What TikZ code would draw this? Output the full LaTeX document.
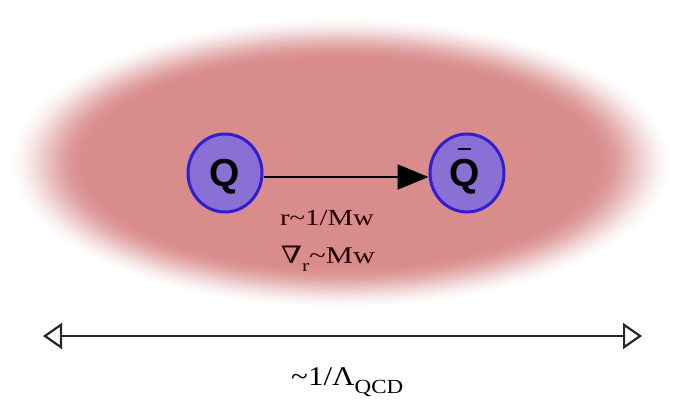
\documentclass[tikz,border=0pt]{standalone}
\usepackage{fontspec}
\setmainfont{Liberation Serif}
\newfontfamily\qfont{Liberation Sans}
\newfontfamily\dvs{DejaVu Serif}
\usetikzlibrary{arrows.meta,shapes.geometric}
\definecolor{blobc}{RGB}{217,140,140}
\definecolor{qfill}{RGB}{138,112,212}
\definecolor{qdraw}{RGB}{50,30,210}
\tikzset{
  quark/.style={ellipse, minimum width=74pt, minimum height=78pt, inner sep=0pt,
     fill=qfill, draw=qdraw, line width=3pt},
  qtext/.style={inner sep=0pt, font=\qfont\bfseries\fontsize{39}{39}\selectfont},
  lbl/.style={font=\fontsize{23}{23}\selectfont, inner sep=0pt, text=black!85!red}
}
\begin{document}
\begin{tikzpicture}[x=1pt,y=-1pt]
\useasboundingbox (0,0) rectangle (674,399);
\fill[white] (0,0) rectangle (674,399);
% blurred blob
\foreach \i in {0,...,40}{
  \pgfmathsetmacro{\t}{\i/40}
  \pgfmathtruncatemacro{\k}{100*(3*\t*\t-2*\t*\t*\t)}
  \pgfmathsetmacro{\rx}{336-80*\t}
  \pgfmathsetmacro{\ry}{148-44*\t}
  \fill[blobc!\k!white] (341,163) ellipse [x radius=\rx, y radius=\ry];
}
\node[quark] (q) at (225,173) {};
\node[quark] (qb) at (467,173) {};
\node[qtext] (qt) at (225,177) {Q};
\node[qtext] (qbt) at (465,177) {Q};
\draw[line width=2.8pt] ([xshift=-7pt]qbt.north |- 0,149) coordinate (b1) -- ([xshift=6pt]qbt.north |- 0,149) coordinate (b2);
\draw[line width=2pt, -{Triangle[length=31pt,width=25pt]}] (q.east |- 0,177) -- (qb.west |- 0,177);
\node[lbl, xscale=1.25] (r) at (327,218) {r\textasciitilde1/Mw};
\node[lbl, xscale=1.27, font=\fontsize{24}{24}\selectfont] (n) at (328,259) {{\dvs ∇}\raisebox{-0.35em}{\fontsize{17}{17}\selectfont r}\textasciitilde Mw};
\coordinate (la) at (43,336);
\coordinate (ra) at (642,336);
\draw[line width=2.6pt, black!85, {Triangle[open,length=19pt,width=26pt,line width=2.2pt]}-{Triangle[open,length=19pt,width=26pt,line width=2.2pt]}] (la) -- (ra);
\node[font=\fontsize{27}{27}\selectfont, inner sep=0pt, anchor=base west, xscale=1.15] (lam) at (291,385) {\textasciitilde1/Λ\raisebox{-0.3em}{\fontsize{20}{20}\selectfont QCD}};
\end{tikzpicture}
\end{document}
